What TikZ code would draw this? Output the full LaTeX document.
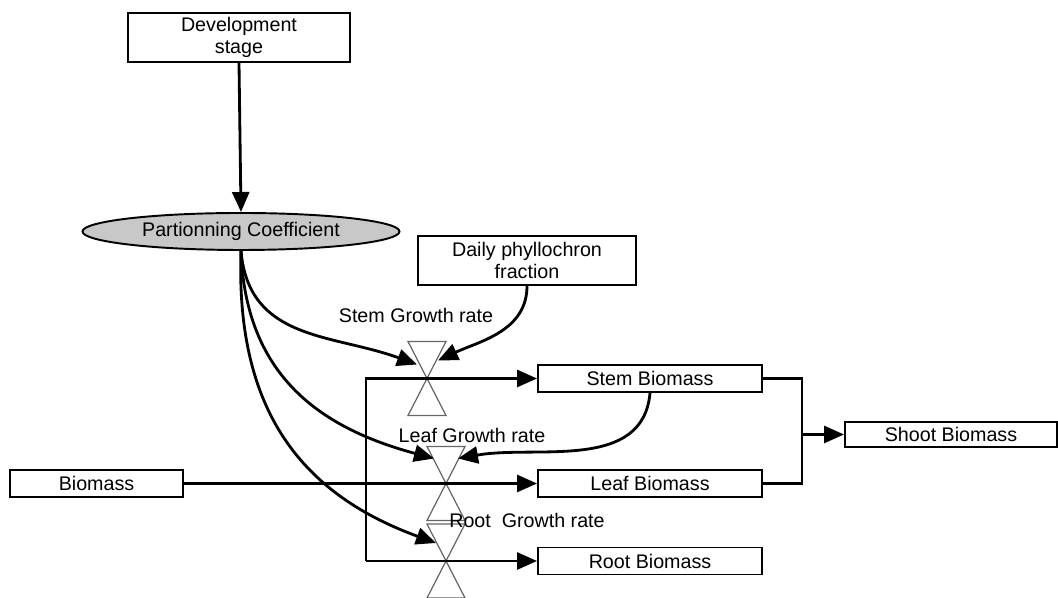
\documentclass[tikz,border=0pt]{standalone}
\usepackage{fontspec}
\setmainfont{Liberation Sans}
\usetikzlibrary{arrows.meta,shapes.geometric}
\definecolor{coefgray}{RGB}{200,200,200}
\begin{document}
\begin{tikzpicture}[
  every node/.style={font=\fontsize{11.2}{13}\selectfont},
  box/.style={draw, line width=1.1pt, inner sep=0pt, align=center},
  flow/.style={line width=1.6pt, -{Triangle[length=0.4cm,width=0.34cm]}},
  link/.style={line width=1.6pt},
  valve/.style={draw=gray!80!black, line width=0.7pt}
]
\useasboundingbox (0,0) rectangle (21.16,11.96);
% state and driver boxes
\node[box, minimum width=4.44cm, minimum height=0.98cm] (dev) at (4.78,11.21) {Development\\stage};
\node[ellipse, draw, fill=coefgray, line width=1.1pt, minimum width=6.34cm, minimum height=0.74cm, inner sep=0pt] (coef) at (4.82,7.33) {Partionning Coefficient};
\node[box, minimum width=4.36cm, minimum height=0.98cm] (phyllo) at (10.54,6.75) {Daily phyllochron\\fraction};
\node[box, minimum width=3.46cm, minimum height=0.54cm] (biomass) at (1.93,2.29) {Biomass};
\node[box, minimum width=4.48cm, minimum height=0.54cm] (stem) at (13.0,4.39) {Stem Biomass};
\node[box, minimum width=4.48cm, minimum height=0.54cm] (leaf) at (13.0,2.29) {Leaf Biomass};
\node[box, minimum width=4.48cm, minimum height=0.54cm] (root) at (13.0,0.74) {Root Biomass};
\node[box, minimum width=4.24cm, minimum height=0.5cm] (shoot) at (19.02,3.27) {Shoot Biomass};
% valves
\coordinate (vs) at (8.54,4.39);
\coordinate (vl) at (8.92,2.29);
\coordinate (vr) at (8.92,0.74);
\foreach \v in {vs,vl,vr}
  \draw[valve] (\v) +(-0.38,0.74) -- +(0.38,0.74) -- +(-0.38,-0.74) -- +(0.38,-0.74) -- cycle;
\node (stemrate) at (8.32,5.66) {Stem Growth rate};
\node (leafrate) at (9.44,3.26) {Leaf Growth rate};
\node (rootrate) at (10.54,1.56) {Root\ \ Growth rate};
% flows
\coordinate (src) at (7.32,0.74);
\draw[flow] (src) |- (stem.west);
\draw[flow] (src) -- (root.west);
\draw[flow] (biomass.east) -- (leaf.west);
\coordinate (join) at (16.04,3.27);
\draw[link] (stem.east) -| (join) |- (leaf.east);
\draw[flow] (join) -- (shoot.west);
% information links
\draw[flow] (dev.south) -- (coef.north);
\draw[flow] (coef.south) to[out=-85,in=160,looseness=1.1] ([shift={(-0.2,0.28)}]vs);
\draw[flow] (coef.south) to[out=-88,in=165,looseness=1.1] ([shift={(-0.24,0.5)}]vl);
\draw[flow] (coef.south) to[out=-92,in=160,looseness=1.1] ([shift={(-0.2,0.36)}]vr);
\draw[flow] (phyllo.south) to[out=-90,in=25] ([shift={(0.22,0.36)}]vs);
\draw[flow] (stem.south) to[out=-95,in=10] ([shift={(0.24,0.5)}]vl);
\end{tikzpicture}
\end{document}
